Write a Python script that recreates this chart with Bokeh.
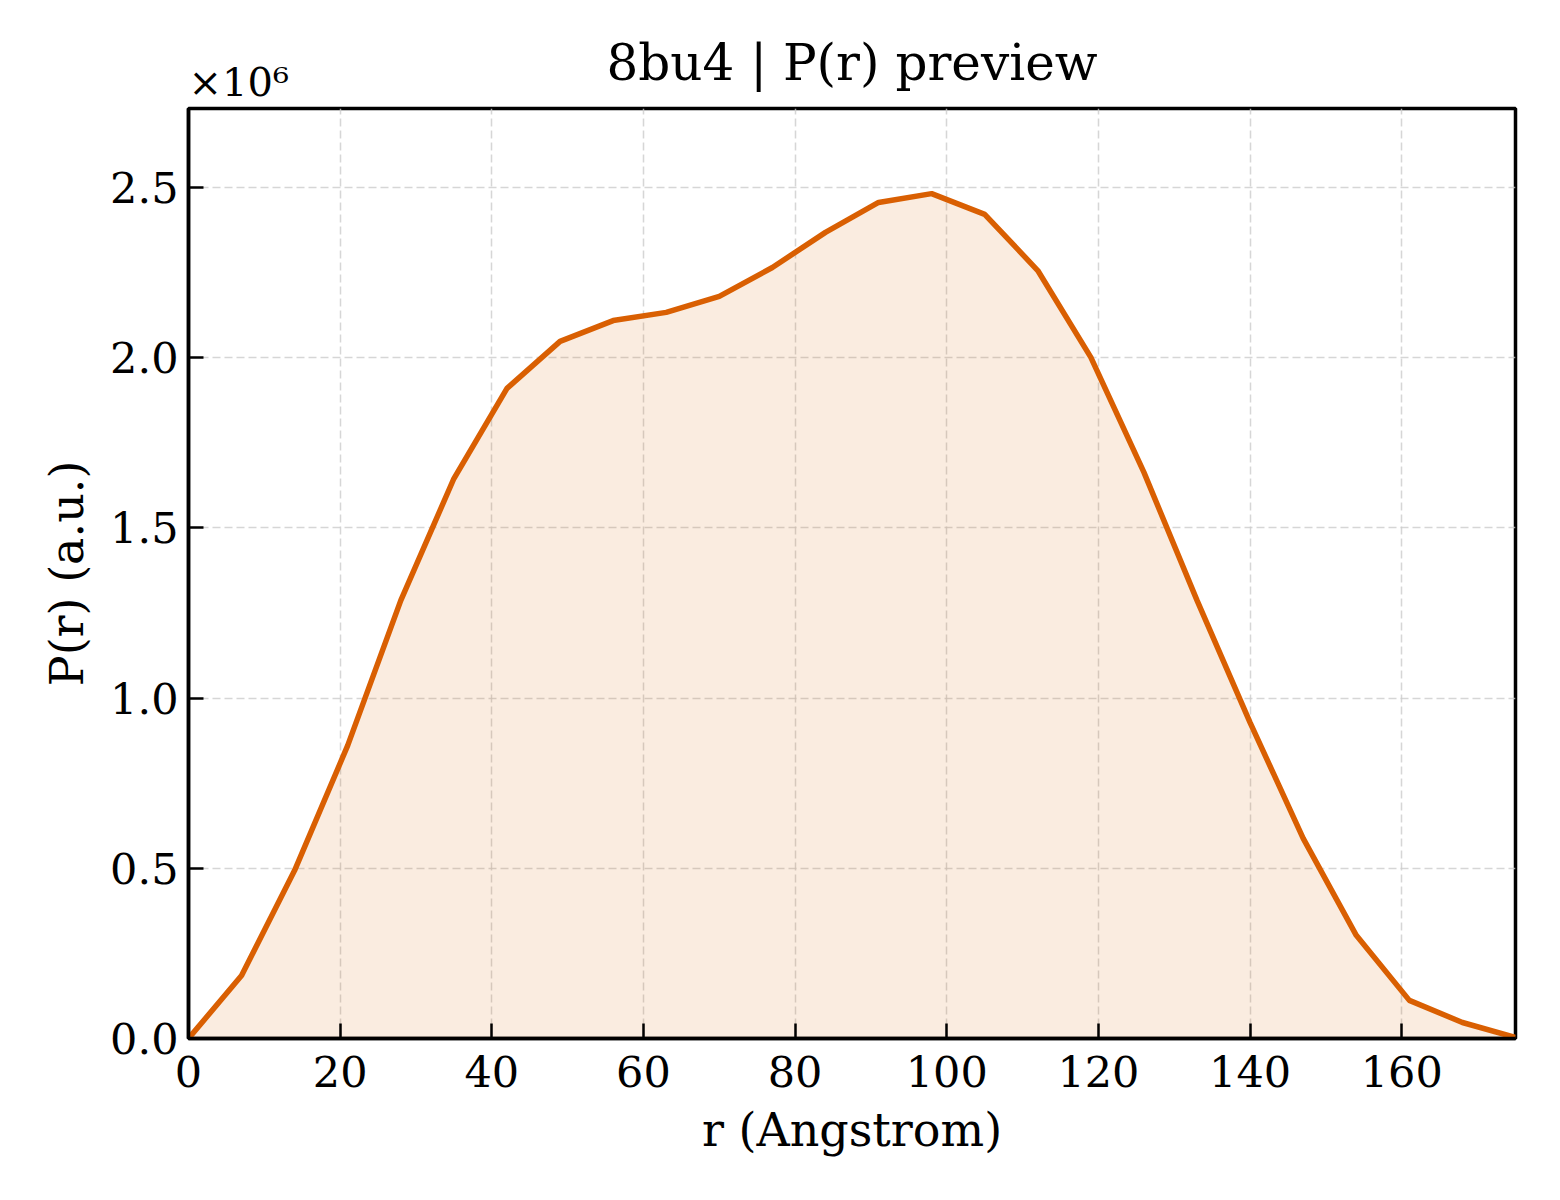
from bokeh.plotting import figure
from bokeh.models import Range1d, Title, CustomJSTickFormatter, FixedTicker
from bokeh.embed import file_html
from bokeh.resources import INLINE

r = [0, 7, 14, 21, 28, 35, 42, 49, 56, 63, 70, 77, 84, 91, 98,
     105, 112, 119, 126, 133, 140, 147, 154, 161, 168, 175]
pr = [0.0, 0.185e6, 0.494e6, 0.861e6, 1.287e6, 1.645e6, 1.910e6, 2.048e6,
      2.109e6, 2.133e6, 2.180e6, 2.265e6, 2.368e6, 2.456e6, 2.482e6,
      2.421e6, 2.256e6, 2.001e6, 1.663e6, 1.287e6, 0.928e6, 0.588e6,
      0.303e6, 0.112e6, 0.047e6, 0.003e6]

x_ticks = [0, 20, 40, 60, 80, 100, 120, 140, 160]
y_ticks = [0, 0.5e6, 1.0e6, 1.5e6, 2.0e6, 2.5e6]

FONT = "DejaVu Serif"
ORANGE = "#d95f02"

p = figure(width=1552, height=1192, output_backend="svg", toolbar_location=None,
           x_range=Range1d(0, 175), y_range=Range1d(0, 2.732e6),
           min_border_left=188, min_border_right=37,
           min_border_top=108, min_border_bottom=154)

# curve + shaded area
p.varea(x=r, y1=0, y2=pr, fill_color=ORANGE, fill_alpha=0.12)
p.line(r, pr, line_color=ORANGE, line_width=5.5)

# offset text of the y axis (closest to the frame), then the title over it
p.add_layout(Title(text="×10⁶", align="left", offset=0, standoff=7,
                   text_font=FONT, text_font_size="40px",
                   text_font_style="normal", text_color="black"), "above")
p.add_layout(Title(text="8bu4 | P(r) preview", align="center", standoff=-76,
                   text_font=FONT, text_font_size="50px",
                   text_font_style="normal", text_color="black"), "above")

# frame
p.outline_line_color = "black"
p.outline_line_width = 3.5
p.outline_line_alpha = 1
p.background_fill_color = "white"
p.border_fill_color = "white"

# axes
p.xaxis.ticker = FixedTicker(ticks=x_ticks)
p.yaxis.ticker = FixedTicker(ticks=y_ticks)
p.yaxis.formatter = CustomJSTickFormatter(code="return (tick / 1e6).toFixed(1);")
p.xaxis.axis_label = "r (Angstrom)"
p.yaxis.axis_label = "P(r) (a.u.)"
for ax in (p.xaxis, p.yaxis):
    ax.axis_line_width = 3.5
    ax.axis_line_color = "black"
    ax.major_tick_in = 15
    ax.major_tick_out = 0
    ax.major_tick_line_width = 2.5
    ax.major_tick_line_color = "black"
    ax.minor_tick_line_color = None
    ax.major_label_text_font = FONT
    ax.major_label_text_font_size = "43px"
    ax.major_label_text_color = "black"
    ax.axis_label_text_font = FONT
    ax.axis_label_text_font_size = "46px"
    ax.axis_label_text_font_style = "normal"
    ax.axis_label_text_color = "black"
p.xaxis.major_label_standoff = 17
p.yaxis.major_label_standoff = 10
p.xaxis.axis_label_standoff = 13
p.yaxis.axis_label_standoff = 13

# grid
p.grid.grid_line_color = "#cccccc"
p.grid.grid_line_alpha = 0.8
p.grid.grid_line_width = 1.5
p.grid.grid_line_dash = "8 4"

open("out.html", "w").write(file_html(p, INLINE))
